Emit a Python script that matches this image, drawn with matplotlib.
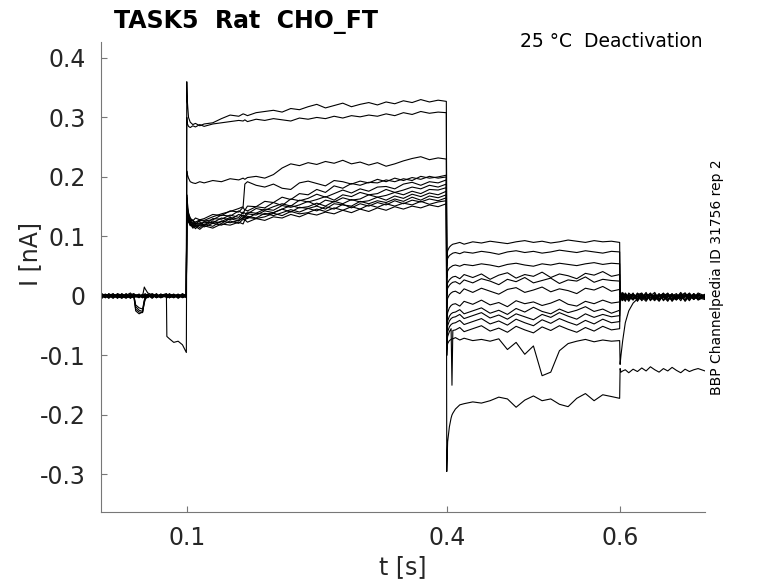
import numpy as np
import matplotlib
matplotlib.use("Agg")
from matplotlib import pyplot as plt

plt.rcParams['font.family'] = ['DejaVu Sans']
plt.rcParams['axes.unicode_minus'] = False

# time points (s) of each protocol segment
t_pre = [0.002, 0.006, 0.01, 0.015, 0.02, 0.025, 0.03, 0.035, 0.039, 0.041, 0.045, 0.049, 0.051,
         0.052, 0.055, 0.06, 0.065, 0.07, 0.0765, 0.077, 0.08, 0.085, 0.09, 0.095, 0.0995]
t_act = [0.1, 0.1005, 0.102, 0.104, 0.107, 0.11, 0.115, 0.12, 0.13, 0.14, 0.15, 0.16, 0.165, 0.167,
         0.17, 0.18, 0.19, 0.2, 0.21, 0.22, 0.23, 0.24, 0.25, 0.26, 0.27, 0.28, 0.29, 0.3, 0.31,
         0.32, 0.33, 0.34, 0.35, 0.36, 0.37, 0.38, 0.39, 0.3995]
t_test = [0.4, 0.4005, 0.401, 0.403, 0.405, 0.406, 0.407, 0.41, 0.415, 0.42, 0.43, 0.44, 0.45, 0.46,
          0.47, 0.48, 0.49, 0.5, 0.51, 0.52, 0.53, 0.54, 0.55, 0.56, 0.57, 0.58, 0.59, 0.5995]
t_tail = [0.6, 0.601, 0.603, 0.606, 0.61, 0.615, 0.62, 0.625, 0.63, 0.635, 0.64, 0.645, 0.65, 0.655,
          0.66, 0.665, 0.67, 0.675, 0.68, 0.685, 0.69, 0.698]

# current in pA, one row per sweep
pre_pA = [
    [2, -3, 4, -1, 3, -4, 1, 5, -2, 0, 3, -3, 2, 4, -1, 3, -2, 1, 4, -3, 2, -1, 3, -2, 1],
    [-3, 2, -1, 4, -4, 2, -2, 0, 3, -1, -3, 2, -2, 1, 3, -4, 2, -1, 0, 3, -3, 2, -2, 4, 0],
    [4, 0, -3, 2, 1, -2, 4, -3, 0, 2, -1, 3, -3, 0, 2, -2, 4, -3, 1, 2, -1, 3, -4, 1, 2],
    [-1, 3, 1, -4, 2, 0, -3, 2, 4, -2, 1, -1, 3, -2, 0, 2, -3, 3, -1, 0, 4, -2, 1, -3, -1],
    [1, -2, 3, 0, -3, 4, -1, -2, 2, 1, -2, 0, 15, 12, 5, 2, -1, 3, -2, 1, -3, 2, 0, 3, -2],
    [-2, 1, -4, 3, 0, -1, 2, -4, 1, -18, -24, -26, -8, -4, 2, -1, 3, -2, 0, -3, 2, 1, -2, 0, 3],
    [3, -1, 2, -3, 4, 1, -2, 3, -1, 2, 0, -3, 2, 1, -2, 4, 0, -1, 2, -3, 1, 3, -1, 2, -2],
    [0, 2, -2, 1, -1, 3, 0, -1, -3, -22, -27, -28, -10, -5, 1, 2, -3, 0, 3, -1, -2, 2, -3, 1, 0],
    [-4, 1, 0, 2, -2, -3, 3, 1, -2, 0, 2, -1, -3, 2, 1, -3, 2, 0, -2, 3, 0, -3, 2, -1, 3],
    [2, -3, 1, -1, 3, 0, -4, 2, 0, -15, -20, -22, -7, -3, -1, 3, -2, 2, -1, 1, -3, 0, 3, -2, 1],
    [-1, 0, 3, -2, 1, 2, -1, -3, 2, -25, -30, -27, -12, -6, 0, -2, 1, -3, 2, 0, 3, -1, -2, 2, -3],
    [1, 3, -2, 0, -3, 2, 1, -2, 3, 1, -1, 2, 0, -3, 2, 1, -2, 3, 0, -2, 1, -3, 2, 0, 1],
    [0, -2, 2, 3, -1, -3, 2, 0, -2, 1, 3, -2, 1, 0, -3, 2, 0, -2, 1, -68, -72, -78, -76, -82, -95],
]

act_pA = [
    [360, 330, 300, 292, 288, 290, 286, 289, 291, 298, 304, 302, 306, 305, 303, 308, 310, 312, 309,
     315, 313, 318, 322, 316, 320, 324, 318, 322, 325, 321, 326, 323, 328, 325, 330, 326, 329, 327],
    [300, 290, 285, 283, 286, 284, 288, 285, 289, 291, 293, 295, 294, 296, 293, 297, 295, 298, 296,
     294, 299, 297, 300, 298, 302, 299, 303, 301, 304, 302, 306, 303, 308, 305, 310, 307, 309, 308],
    [210, 205, 198, 192, 190, 189, 192, 190, 194, 192, 197, 195, 198, 196, 199, 201, 198, 204, 215,
     222, 219, 224, 221, 226, 223, 228, 222, 225, 220, 224, 218, 222, 227, 231, 234, 229, 232, 230],
    [170, 160, 140, 130, 126, 124, 128, 127, 133, 138, 142, 147, 150, 188, 192, 186, 183, 188, 181,
     179, 190, 193, 189, 185, 194, 192, 188, 193, 190, 196, 192, 198, 194, 199, 196, 201, 198, 200],
    [165, 150, 138, 131, 126, 131, 128, 130, 137, 135, 143, 141, 149, 144, 151, 150, 159, 157, 166,
     162, 172, 170, 179, 174, 185, 181, 189, 186, 191, 190, 195, 192, 197, 194, 201, 198, 200, 203],
    [160, 148, 135, 126, 128, 120, 127, 126, 128, 136, 134, 143, 138, 145, 143, 150, 148, 157, 152,
     163, 160, 164, 171, 166, 172, 178, 173, 180, 176, 183, 184, 180, 188, 191, 186, 192, 190, 195],
    [158, 146, 133, 128, 121, 124, 125, 119, 130, 129, 136, 132, 141, 139, 138, 147, 144, 150, 155,
     151, 161, 158, 162, 167, 161, 170, 167, 174, 170, 172, 179, 174, 178, 183, 180, 186, 183, 188],
    [155, 143, 131, 123, 124, 120, 118, 125, 123, 131, 128, 137, 134, 135, 141, 139, 146, 144, 152,
     149, 153, 159, 152, 161, 158, 165, 161, 163, 170, 166, 169, 174, 170, 176, 172, 179, 178, 182],
    [153, 141, 130, 126, 118, 122, 121, 124, 122, 125, 132, 129, 136, 131, 138, 136, 143, 140, 146,
     152, 148, 150, 156, 151, 159, 155, 162, 158, 160, 166, 161, 168, 164, 171, 167, 173, 170, 176],
    [150, 139, 128, 119, 121, 116, 123, 118, 126, 122, 130, 126, 131, 135, 130, 139, 137, 140, 146,
     141, 149, 147, 151, 146, 155, 153, 151, 159, 155, 160, 157, 163, 159, 166, 161, 168, 165, 170],
    [148, 137, 127, 122, 116, 119, 115, 121, 117, 126, 123, 127, 132, 128, 134, 131, 139, 135, 140,
     145, 141, 147, 143, 150, 146, 154, 148, 155, 151, 157, 153, 160, 155, 161, 158, 163, 160, 165],
    [146, 135, 125, 118, 119, 113, 120, 116, 122, 119, 126, 122, 129, 127, 132, 130, 133, 139, 135,
     142, 138, 140, 146, 142, 148, 144, 150, 146, 153, 149, 155, 151, 156, 153, 159, 154, 158, 160],
    [144, 133, 124, 121, 114, 117, 112, 118, 114, 121, 119, 124, 121, 128, 124, 130, 127, 133, 131,
     137, 133, 139, 136, 141, 138, 144, 140, 146, 142, 148, 144, 150, 146, 151, 148, 153, 150, 155],
]

test_pA = [
    [60, 70, 76, 82, 85, 86, 87, 88, 90, 87, 91, 89, 92, 90, 88, 91, 93, 90, 92, 89, 91, 94, 92, 90,
     93, 91, 92, 90],
    [50, 58, 63, 68, 70, 71, 72, 73, 71, 74, 72, 75, 73, 70, 74, 76, 73, 75, 72, 74, 77, 75, 73, 76,
     74, 72, 75, 74],
    [30, 38, 42, 47, 49, 50, 51, 52, 50, 53, 51, 54, 52, 49, 53, 55, 52, 50, 54, 52, 55, 53, 51, 54,
     56, 53, 55, 54],
    [10, 18, 22, 27, 30, 31, 32, 33, 29, 36, 31, 37, 28, 35, 39, 30, 36, 33, 40, 31, 37, 34, 29, 38,
     35, 41, 33, 36],
    [0, 8, 13, 18, 21, 22, 23, 24, 20, 27, 22, 29, 25, 19, 28, 24, 31, 22, 26, 30, 21, 27, 25, 32,
     23, 28, 26, 25],
    [-20, -10, -4, 2, 5, 6, 7, 8, 4, 12, 6, 13, 8, 3, 11, 14, 6, 10, 15, 7, 12, 9, 4, 13, 10, 16,
     8, 11],
    [-45, -35, -28, -20, -16, -15, -14, -13, -17, -9, -14, -7, -15, -11, -18, -8, -13, -10, -16,
     -12, -6, -14, -17, -9, -13, -7, -12, -10],
    [-60, -50, -42, -34, -30, -29, -28, -27, -23, -30, -25, -20, -29, -24, -31, -21, -27, -19, -26,
     -30, -22, -28, -24, -18, -26, -22, -29, -24],
    [-70, -58, -50, -42, -38, -37, -36, -35, -31, -38, -33, -28, -37, -32, -39, -30, -35, -40, -31,
     -36, -28, -34, -39, -30, -36, -31, -35, -33],
    [-80, -68, -60, -52, -48, -47, -46, -45, -41, -48, -43, -38, -47, -42, -49, -39, -45, -50, -40,
     -46, -38, -44, -49, -41, -47, -39, -45, -43],
    [-90, -75, -68, -60, -55, -150, -58, -57, -53, -60, -55, -50, -59, -54, -61, -51, -57, -62, -52,
     -58, -50, -56, -61, -53, -59, -51, -57, -55],
    [-100, -85, -80, -75, -73, -72, -72, -70, -74, -71, -75, -73, -76, -72, -90, -78, -98, -84, -134,
     -128, -92, -80, -76, -73, -77, -74, -76, -75],
    [-295, -270, -245, -220, -205, -200, -197, -190, -183, -181, -178, -180, -176, -170, -173, -187,
     -175, -168, -176, -173, -182, -186, -172, -164, -176, -166, -169, -172],
]

tail_pA = [
    [8, 2, -3, 4, -6, 1, -8, 3, -2, 5, -5, 0, 4, -7, 2, -3, 6, -4, 1, -6, 3, -2],
    [5, -4, 3, -7, 2, -5, 4, -3, 6, -8, 1, -2, 5, -6, 0, 4, -5, 2, -7, 3, -1, -4],
    [3, 6, -5, 1, -3, 5, -9, 2, -4, 0, 6, -7, 1, 3, -5, -1, 4, -8, 2, -3, 5, 0],
    [-2, 4, -6, 3, -1, -7, 2, 5, -5, 1, -3, 4, -8, 0, 3, -6, 1, 5, -4, -1, 2, -5],
    [6, -1, 2, -8, 4, 0, -3, -6, 3, -4, 2, -9, 1, 4, -2, -7, 3, -1, 5, -5, 0, 2],
    [2, -6, 4, 0, -9, 3, -1, 4, -7, 2, -5, 1, -3, 5, -8, 2, -4, 0, 3, -6, 1, -3],
    [-4, 1, -7, 5, -2, -5, 3, -8, 0, 4, -6, 2, -1, -9, 3, -3, 0, -7, 4, -2, -5, 1],
    [0, -8, 3, -4, 1, -6, 5, -2, -9, 2, -1, -5, 4, -3, -6, 1, -8, 3, -2, 2, -7, -1],
    [4, -3, -8, 2, -5, 3, -6, 0, 2, -7, 4, -4, -1, 2, -9, 0, -3, 5, -6, 1, -4, 3],
    [-6, 3, -1, -9, 5, -3, 0, -5, 4, -2, -8, 3, -6, 1, -1, -4, 2, -9, 0, -5, 3, -2],
    [1, -5, 6, -2, -7, 2, -4, 1, -6, 3, -3, -8, 2, -2, 4, -6, -1, 1, -8, 4, -3, -6],
    [-115, -100, -75, -45, -25, -12, -5, 2, -4, 1, -6, 3, -2, -7, 0, 2, -5, 1, -3, 4, -6, -1],
    [-122, -128, -126, -124, -129, -123, -127, -121, -126, -119, -124, -128, -122, -126, -120, -125,
     -129, -123, -127, -124, -122, -126],
]

title_text = 'TASK5  Rat  CHO_FT'
cond_text = '25 \u00b0C  Deactivation'
id_text = 'BBP Channelpedia ID 31756 rep 2'
x_ticks = [0.1, 0.4, 0.6]
y_ticks = [-0.3, -0.2, -0.1, 0, 0.1, 0.2, 0.3, 0.4]
y_tick_labels = ['-0.3', '-0.2', '-0.1', '0', '0.1', '0.2', '0.3', '0.4']

t_all = np.concatenate([t_pre, t_act, t_test, t_tail])

fig = plt.figure(figsize=(7.78, 5.83), dpi=100)
ax = fig.add_axes([0.1298, 0.1218, 0.7764, 0.8064])

for i in range(len(act_pA)):
    sweep = np.concatenate([pre_pA[i], act_pA[i], test_pA[i], tail_pA[i]]) / 1000.0
    ax.plot(t_all, sweep, color='black', lw=0.8)

ax.set_xlim(0.001, 0.698)
ax.set_ylim(-0.363, 0.427)
ax.set_xticks(x_ticks)
ax.set_xticklabels([str(v) for v in x_ticks])
ax.set_yticks(y_ticks)
ax.set_yticklabels(y_tick_labels)

for side in ['top', 'right']:
    ax.spines[side].set_visible(False)
for side in ['left', 'bottom']:
    ax.spines[side].set_color('#777777')
    ax.spines[side].set_linewidth(0.8)
ax.tick_params(direction='in', length=4, width=0.8, color='#777777',
               labelsize=17, labelcolor='#262626')
ax.tick_params(axis='y', pad=11)
ax.tick_params(axis='x', pad=10)

ax.set_xlabel('t [s]', fontsize=17, color='#262626', labelpad=4)
fig.text(0.039, 0.565, 'I [nA]', rotation=90, fontsize=17, color='#262626',
         ha='center', va='center')

fig.text(0.1465, 0.952, title_text, fontsize=17, fontweight='bold', ha='left', va='baseline')
fig.text(0.9036, 0.9194, cond_text, fontsize=13.5, ha='right', va='baseline')
fig.text(0.9216, 0.525, id_text, rotation=90, fontsize=10, ha='center', va='center')

fig.savefig('out.png', dpi=100)
